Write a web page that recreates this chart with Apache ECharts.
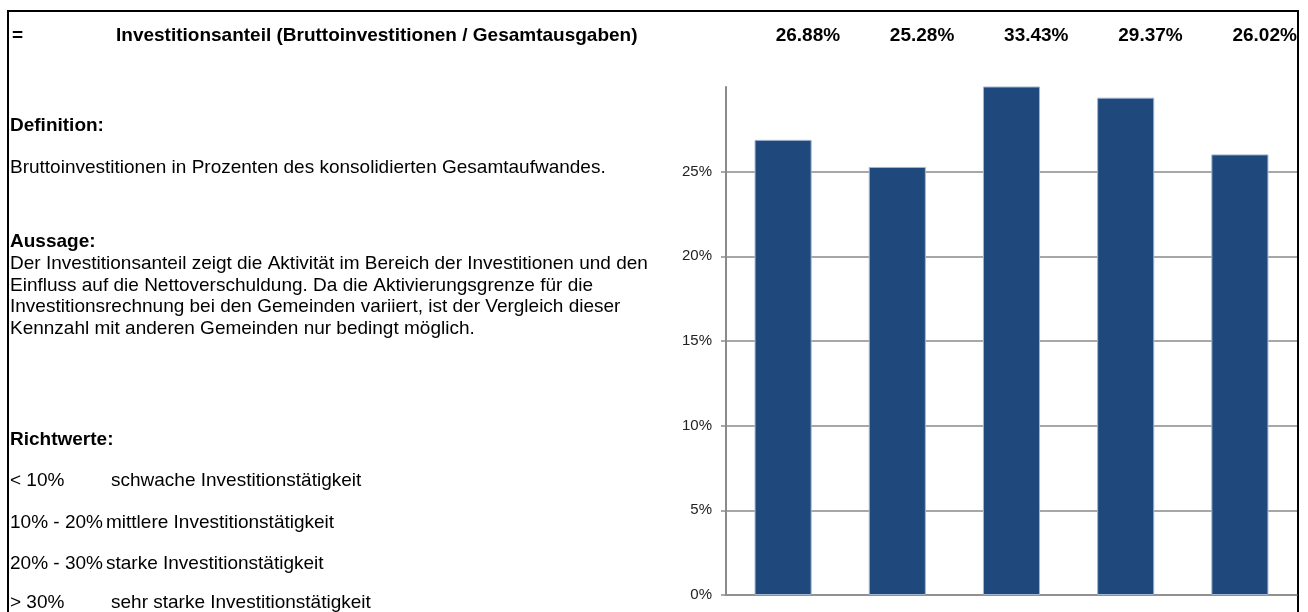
<!DOCTYPE html>
<html>
<head>
<meta charset="utf-8">
<script src="https://cdn.jsdelivr.net/npm/echarts@6/dist/echarts.min.js"></script>
<style>
  html, body { margin: 0; padding: 0; background: #fff; }
  #main { width: 1308px; height: 612px; }
</style>
</head>
<body>
<div id="main"></div>
<script>
// Daten
const years = ['1', '2', '3', '4', '5'];
const anteil = [26.88, 25.28, 33.43, 29.37, 26.02];
const yMin = 0, yMax = 30, yStep = 5;

// Texte links
const titel = 'Investitionsanteil (Bruttoinvestitionen / Gesamtausgaben)';
const definition = 'Bruttoinvestitionen in Prozenten des konsolidierten Gesamtaufwandes.';
const aussage = [
  'Der Investitionsanteil zeigt die Aktivität im Bereich der Investitionen und den',
  'Einfluss auf die Nettoverschuldung. Da die Aktivierungsgrenze für die',
  'Investitionsrechnung bei den Gemeinden variiert, ist der Vergleich dieser',
  'Kennzahl mit anderen Gemeinden nur bedingt möglich.'
];
const richtBereich = ['< 10%', '10% - 20%', '20% - 30%', '> 30%'];
const richtText = [
  'schwache Investitionstätigkeit',
  'mittlere Investitionstätigkeit',
  'starke Investitionstätigkeit',
  'sehr starke Investitionstätigkeit'
];

const FONT = '"Liberation Sans", Arial, sans-serif';
const GREY = '#8a8a8a';

let chart = echarts.init(document.getElementById('main'), null, { renderer: 'canvas' });

let option = {
  animation: false,
  backgroundColor: '#fff',
  grid: { left: 726, right: 11, top: 87, bottom: 17, containLabel: false },
  xAxis: {
    type: 'category',
    data: years,
    axisLine: { show: true, lineStyle: { color: GREY, width: 1.5 } },
    axisTick: { show: false },
    axisLabel: { show: false },
    splitLine: { show: false }
  },
  yAxis: {
    type: 'value',
    min: yMin,
    max: yMax,
    interval: yStep,
    axisLine: { show: true, lineStyle: { color: GREY, width: 2 } },
    axisTick: { show: true, length: 5, lineStyle: { color: GREY, width: 1.5 } },
    axisLabel: {
      formatter: '{value}%',
      color: '#222',
      fontFamily: FONT,
      fontSize: 15,
      margin: 14,
      showMaxLabel: false
    },
    splitLine: { show: true, showMaxLine: false, lineStyle: { color: GREY, width: 1.5 } }
  },
  series: [
    {
      type: 'bar',
      data: anteil,
      barWidth: '50%',
      clip: true,
      itemStyle: {
        color: '#1f497d',
        borderColor: '#a3b6cf',
        borderWidth: 1
      }
    }
  ]
};
chart.setOption(option);

// Textblöcke und Rahmen
function txt(x, y, text, bold, align) {
  return {
    type: 'text',
    x: x,
    y: y,
    style: {
      text: text,
      fill: '#000',
      font: (bold ? 'bold ' : '') + '19px ' + FONT,
      textAlign: align || 'left',
      textVerticalAlign: 'middle'
    }
  };
}

let g = [];
g.push({
  type: 'rect',
  shape: { x: 8, y: 11, width: 1290, height: 640 },
  style: { fill: 'none', stroke: '#000', lineWidth: 2 },
  silent: true
});
g.push(txt(12, 36, '=', true));
g.push(txt(116, 36, titel, true));
// Werte oben rechts, an die Kategorien gebunden
anteil.forEach(function (v, i) {
  let px = chart.convertToPixel({ xAxisIndex: 0 }, years[i]);
  g.push(txt(px + 57, 36, v.toFixed(2) + '%', true, 'right'));
});
g.push(txt(10, 126, 'Definition:', true));
g.push(txt(10, 168, definition, false));
g.push(txt(10, 242, 'Aussage:', true));
aussage.forEach(function (s, i) {
  g.push(txt(10, 264 + i * 21.5, s, false));
});
g.push(txt(10, 440, 'Richtwerte:', true));
const richtY = [481, 523, 564, 603];
const richtX = [111, 106, 106, 111];
richtBereich.forEach(function (s, i) {
  g.push(txt(10, richtY[i], s, false));
  g.push(txt(richtX[i], richtY[i], richtText[i], false));
});

chart.setOption({ graphic: g });
</script>
</body>
</html>
